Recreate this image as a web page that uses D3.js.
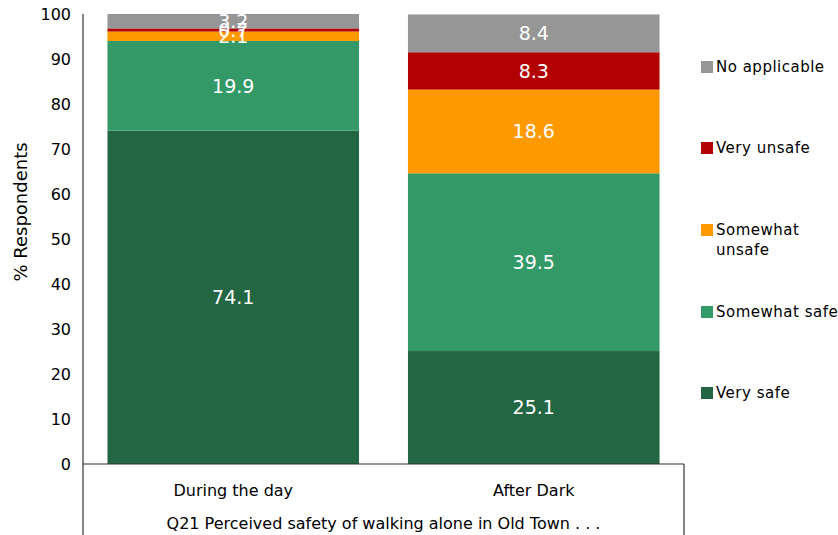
<!DOCTYPE html>
<html><head><meta charset="utf-8">
<script src="https://cdn.jsdelivr.net/npm/d3@7"></script>
<style>body{margin:0;background:#fff}svg{display:block}text{font-family:"DejaVu Sans",Verdana,sans-serif}</style>
</head><body><svg id="c" width="838" height="535"></svg>
<script>
const categories = ["During the day", "After Dark"];
const seriesNames = ["Very safe", "Somewhat safe", "Somewhat unsafe", "Very unsafe", "No applicable"];
const verySafe = [74.1, 25.1];
const somewhatSafe = [19.9, 39.5];
const somewhatUnsafe = [2.1, 18.6];
const veryUnsafe = [0.7, 8.3];
const noApplicable = [3.2, 8.4];
const colors = ["#226644", "#339966", "#FF9900", "#B30000", "#969696"];
const yTicks = [0,10,20,30,40,50,60,70,80,90,100];
const axisTitle = "Q21 Perceived safety of walking alone in Old Town . . .";

const seriesVals = [verySafe, somewhatSafe, somewhatUnsafe, veryUnsafe, noApplicable];
const rows = categories.map((c,i)=>{const r={cat:c}; seriesNames.forEach((s,j)=>r[s]=seriesVals[j][i]); return r;});
const stack = d3.stack().keys(seriesNames)(rows);

const svg = d3.select("#c");
const L=83, R=684, T=14, B=464;
const x = d3.scaleBand().domain(categories).range([L,R]).paddingInner(49/301).paddingOuter(24.5/301);
const y = d3.scaleLinear().domain([0,100]).range([B,T]);

// bars
stack.forEach((layer,j)=>{
  svg.append("g").selectAll("rect").data(layer).join("rect")
    .attr("x",d=>x(d.data.cat)).attr("width",x.bandwidth())
    .attr("y",d=>y(d[1])).attr("height",d=>y(d[0])-y(d[1]))
    .attr("fill",colors[j]);
});
// labels
stack.forEach((layer,j)=>{
  svg.append("g").selectAll("text").data(layer).join("text")
    .attr("x",d=>x(d.data.cat)+x.bandwidth()/2)
    .attr("y",d=>(y(d[0])+y(d[1]))/2)
    .attr("dy","0.36em").attr("text-anchor","middle")
    .attr("fill","#fff").attr("font-size",19)
    .text(d=>(d[1]-d[0]).toFixed(1));
});

// y axis
const ya = svg.append("g").attr("transform",`translate(${L},0)`)
  .call(d3.axisLeft(y).tickValues(yTicks).tickSize(0).tickPadding(12));
ya.select(".domain").remove();
ya.selectAll("text").attr("font-size",16).attr("fill","#000").style("font-family","DejaVu Sans");
svg.append("line").attr("x1",L).attr("x2",L).attr("y1",T).attr("y2",535).attr("stroke","#333").attr("stroke-width",1.2);
svg.append("line").attr("x1",L).attr("x2",R).attr("y1",B).attr("y2",B).attr("stroke","#333").attr("stroke-width",1.2);
svg.append("line").attr("x1",R).attr("x2",R).attr("y1",B).attr("y2",535).attr("stroke","#333").attr("stroke-width",1.2);

// x category labels
const xa = svg.append("g").attr("transform",`translate(0,${B})`)
  .call(d3.axisBottom(x).tickSize(0).tickPadding(0));
xa.select(".domain").remove();
xa.selectAll("text").attr("font-size",16).attr("fill","#000").attr("dy",null).attr("y",32).style("font-family","DejaVu Sans");

svg.append("text").attr("x",(L+R)/2).attr("y",529).attr("text-anchor","middle").attr("font-size",16).text(axisTitle);

svg.append("text").attr("transform","translate(27,212) rotate(-90)").attr("text-anchor","middle").attr("font-size",18).text("% Respondents");

// legend
const legendY = [67,148,230,312,393];
const legendLines = [["No applicable"],["Very unsafe"],["Somewhat","unsafe"],["Somewhat safe"],["Very safe"]];
const legOrder = [4,3,2,1,0];
legOrder.forEach((si,k)=>{
  const g = svg.append("g");
  g.append("rect").attr("x",701).attr("y",legendY[k]-6).attr("width",12).attr("height",12).attr("fill",colors[si]);
  const t = g.append("text").attr("x",716).attr("y",legendY[k]).attr("font-size",15).attr("letter-spacing","0.5px");
  legendLines[k].forEach((ln,i)=>t.append("tspan").attr("x",716).attr("dy",i===0?"0.36em":"1.3em").text(ln));
});
</script></body></html>
